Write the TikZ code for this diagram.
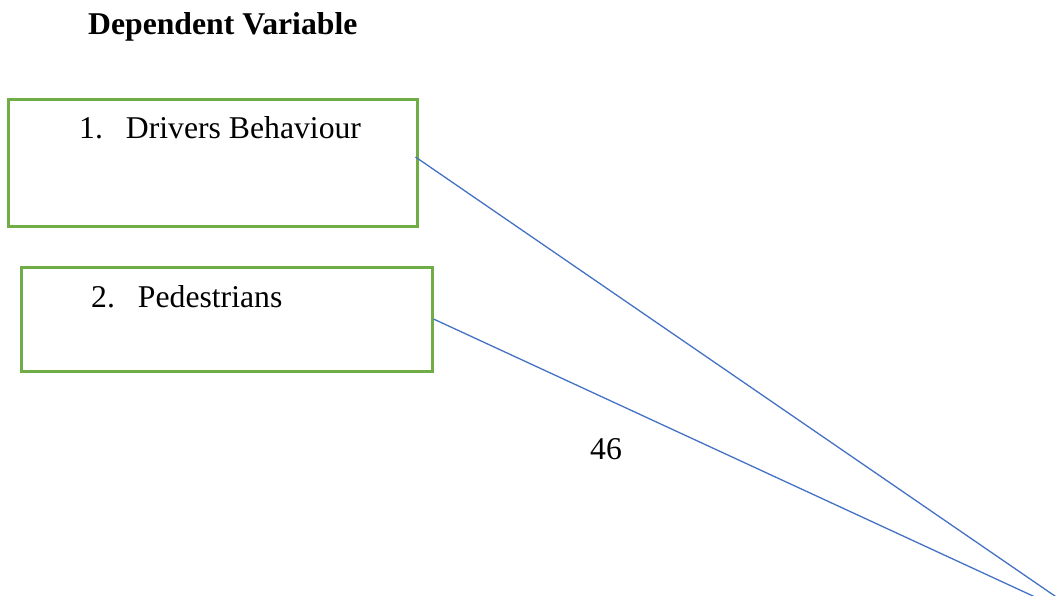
\documentclass[tikz,border=0pt]{standalone}
\usepackage{fontspec}
\setmainfont{Liberation Serif}
\usepackage{xcolor}
\usepackage{tikz}
\usetikzlibrary{positioning}
\definecolor{boxgreen}{RGB}{112,173,71}
\definecolor{lineblue}{RGB}{68,114,196}
\tikzstyle{varbox} = [rectangle,draw=boxgreen,line width=3pt,inner sep=0pt]
\tikzstyle{link} = [draw=lineblue,line width=1.3pt]
\tikzstyle{txt} = [anchor=base west,inner sep=0pt,font=\fontsize{31.7}{38}\selectfont]

\begin{document}
\begin{tikzpicture}[x=1pt,y=-1pt]
\fill[white] (0,0) rectangle (1063,596);
\clip (0,0) rectangle (1063,596);
\node[txt,font=\fontsize{31.7}{38}\selectfont\bfseries] (title) at (88,35) {Dependent Variable};
\node[varbox,minimum width=409pt,minimum height=127pt] (box1) at (212.5,163.5) {};
\node[varbox,minimum width=411pt,minimum height=104pt] (box2) at (226.5,319) {};
\node[txt] (lab1) at (79,139) {1.\hspace{23pt}Drivers Behaviour};
\node[txt] (lab2) at (91,307) {2.\hspace{23pt}Pedestrians};
\node[txt] (page) at (590,459) {46};
\coordinate (meet) at (1100,627);
\draw[link] ([xshift=-3pt,yshift=6.5pt]box1.east) -- (meet);
\draw[link] (box2.east) -- (meet);
\end{tikzpicture}
\end{document}
